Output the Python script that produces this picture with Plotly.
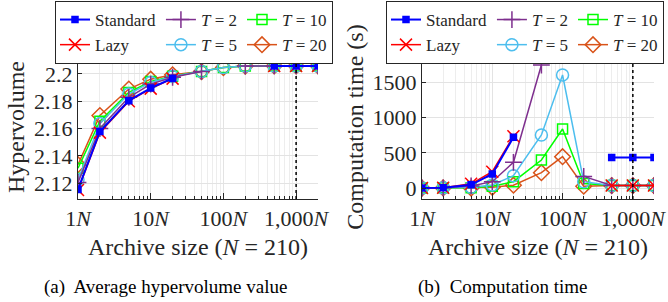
import plotly.graph_objects as go

# ---------------- data ----------------
archive_multiples = [1, 2, 5, 10, 20, 50, 100, 200, 500, 1000, 2000]
major_ticks = [1, 10, 100, 1000]
major_tick_text = ["1<i>N</i>", "10<i>N</i>", "100<i>N</i>", "1,000<i>N</i>"]
marked_archive = 1000  # dotted reference line

series_names = ["Standard", "Lazy", "<i>T</i> = 2", "<i>T</i> = 5", "<i>T</i> = 10", "<i>T</i> = 20"]

hv_standard = [2.1154, 2.1578, 2.1804, 2.1896, 2.1968, None, None, None, 2.2058, 2.2058, 2.2058]
hv_lazy = [2.1150, 2.1570, 2.1800, 2.1892, 2.1965, None, None, None, 2.2058, 2.2058, 2.2058]
hv_t2 = [2.1205, 2.1600, 2.1828, 2.1925, 2.1975, 2.2017, None, 2.2057, 2.2058, 2.2058, 2.2058]
hv_t5 = [2.1225, 2.1636, 2.1852, 2.1937, 2.1980, 2.2017, 2.2046, 2.2057, 2.2058, 2.2058, 2.2058]
hv_t10 = [2.1309, 2.1653, 2.1864, 2.1944, 2.1983, 2.2017, 2.2046, 2.2057, 2.2058, 2.2058, 2.2058]
hv_t20 = [2.1335, 2.1695, 2.1889, 2.1961, 2.1993, 2.2017, 2.2046, 2.2057, 2.2058, 2.2058, 2.2058]

time_standard = [0, 5, 45, 200, 720, None, None, None, 435, 435, 435]
time_lazy = [0, 5, 60, 232, 735, None, None, None, 35, 35, 35]
time_t2 = [0, 3, 30, 90, 365, 1747, None, 165, 35, 35, 35]
time_t5 = [0, 2, 10, 43, 175, 753, 1605, 90, 35, 35, 35]
time_t10 = [0, 2, 5, 25, 90, 398, 838, 65, 35, 35, 35]
time_t20 = [0, 1, 0, 10, 40, 218, 445, 25, 35, 35, 35]

# ---------------- styles ----------------
FONT = "Liberation Serif"
INK = "#262626"
styles = {
    "Standard": dict(color="#0000FF", symbol="square", size=6, lw=2, rank=1, grp="g1"),
    "Lazy": dict(color="#FF0000", symbol="x-thin", size=12, lw=1.5, rank=2, grp="g1"),
    "<i>T</i> = 2": dict(color="#7E2F8E", symbol="cross-thin", size=12, lw=1.5, rank=3, grp="g2"),
    "<i>T</i> = 5": dict(color="#4DBEEE", symbol="circle-open", size=12, lw=1.5, rank=4, grp="g2"),
    "<i>T</i> = 10": dict(color="#00FF00", symbol="square-open", size=10, lw=1.5, rank=5, grp="g3"),
    "<i>T</i> = 20": dict(color="#D95319", symbol="diamond-open", size=12, lw=1.5, rank=6, grp="g3"),
}
hv_series = dict(zip(series_names, [hv_standard, hv_lazy, hv_t2, hv_t5, hv_t10, hv_t20]))
time_series = dict(zip(series_names, [time_standard, time_lazy, time_t2, time_t5, time_t10, time_t20]))
draw_order = ["<i>T</i> = 20", "<i>T</i> = 10", "<i>T</i> = 5", "<i>T</i> = 2", "Lazy", "Standard"]

fig = go.Figure()
for panel, data, xa, ya, leg in [(1, hv_series, "x", "y", "legend"), (2, time_series, "x2", "y2", "legend2")]:
    for name in draw_order:
        s = styles[name]
        fig.add_trace(go.Scatter(
            x=archive_multiples, y=data[name], name=name, mode="lines+markers",
            xaxis=xa, yaxis=ya, legend=leg, legendgroup=f"{s['grp']}_{panel}", legendrank=s["rank"],
            line=dict(color=s["color"], width=s["lw"]),
            marker=dict(symbol=s["symbol"], size=s["size"], color=s["color"],
                        line=dict(color=s["color"], width=1.5)),
            connectgaps=False,
        ))

W, H = 668, 302
def fx(px):
    return px / W
def fy(py):
    return 1 - py / H

axis_common = dict(
    showline=True, linecolor=INK, linewidth=1, mirror=False, zeroline=False,
    ticks="inside", tickcolor=INK, showgrid=True, gridcolor="#E3E3E3", gridwidth=1,
    tickfont=dict(family=FONT, size=22, color=INK),
)
xaxis_common = dict(
    type="log", range=[0, 3.30103], tickvals=major_ticks, ticktext=major_tick_text, ticklen=6,
    minor=dict(ticks="inside", ticklen=3, tickcolor=INK, showgrid=True, gridcolor="#EDEDED", dtick="D1"),
    title=dict(text="Archive size (<i>N</i> = 210)", font=dict(family=FONT, size=24, color=INK), standoff=7),
    **axis_common,
)
legend_common = dict(orientation="h", traceorder="grouped", yanchor="top", y=fy(1),
                     bgcolor="white", bordercolor=INK, borderwidth=1, tracegroupgap=0,
                     font=dict(family=FONT, size=17, color=INK), itemwidth=30)

fig.update_layout(
    width=W, height=H, margin=dict(l=0, r=0, t=0, b=0, autoexpand=False),
    paper_bgcolor="white", plot_bgcolor="white",
    font=dict(family=FONT, color=INK),
    xaxis=dict(domain=[fx(78), fx(318)], anchor="y", **xaxis_common),
    xaxis2=dict(domain=[fx(422), fx(654)], anchor="y2", **xaxis_common),
    yaxis=dict(domain=[fy(199), fy(55)], anchor="x", range=[2.1084, 2.2138],
               tickvals=[2.12, 2.14, 2.16, 2.18, 2.2], ticktext=["2.12", "2.14", "2.16", "2.18", "2.2"], ticklen=4,
               title=dict(text="Hypervolume", font=dict(family=FONT, size=24, color=INK), standoff=2),
               **axis_common),
    yaxis2=dict(domain=[fy(199), fy(55)], anchor="x2", range=[-156, 1889],
                tickvals=[0, 500, 1000, 1500], ticklen=4,
                title=dict(text="Computation time (s)", font=dict(family=FONT, size=24, color=INK), standoff=2),
                **axis_common),
    legend=dict(x=fx(194), xanchor="center", **legend_common),
    legend2=dict(x=fx(664), xanchor="right", **legend_common),
    showlegend=True,
)

for xref in ["x", "x2"]:
    fig.add_shape(type="line", xref=xref, yref=xref.replace("x", "y") + " domain",
                  x0=marked_archive, x1=marked_archive, y0=0, y1=1,
                  line=dict(color="black", width=1.5, dash="dot"))

fig.add_annotation(text="(a)  Average hypervolume value", xref="paper", yref="paper",
                   x=fx(165), y=fy(287), xanchor="center", yanchor="middle", showarrow=False,
                   font=dict(family=FONT, size=19, color="black"))
fig.add_annotation(text="(b)  Computation time", xref="paper", yref="paper",
                   x=fx(502), y=fy(287), xanchor="center", yanchor="middle", showarrow=False,
                   font=dict(family=FONT, size=19, color="black"))

fig.write_html("out.html", config={"displayModeBar": False},
               post_script="document.body.style.margin='0';")
